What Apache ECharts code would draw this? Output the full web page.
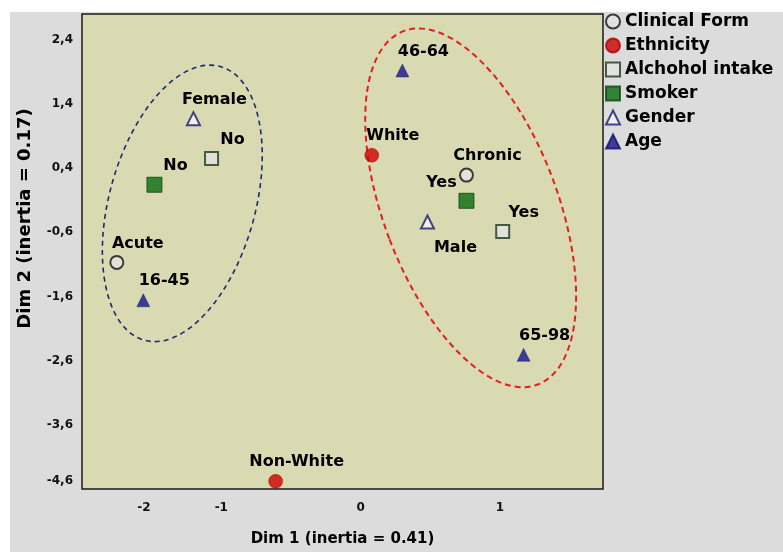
<!DOCTYPE html>
<html><head><meta charset="utf-8">
<script src="https://cdn.jsdelivr.net/npm/echarts@6/dist/echarts.min.js"></script>
<style>html,body{margin:0;padding:0;background:#fff}#c{width:783px;height:552px}</style>
</head><body><div id="c"></div>
<script>
// ---- data ----
const seriesNames = ['Clinical Form','Ethnicity','Alchohol intake','Smoker','Gender','Age'];
const clinicalLabels = ['Acute','Chronic'];
const clinicalX = [-1.75, 0.76];
const clinicalY = [-1.07, 0.29];
const ethnicityLabels = ['White','Non-White'];
const ethnicityX = [0.08, -0.61];
const ethnicityY = [0.60, -4.48];
const alcoholLabels = ['No','Yes'];
const alcoholX = [-1.07, 1.02];
const alcoholY = [0.55, -0.59];
const smokerLabels = ['No','Yes'];
const smokerX = [-1.48, 0.76];
const smokerY = [0.14, -0.11];
const genderLabels = ['Female','Male'];
const genderX = [-1.20, 0.48];
const genderY = [1.17, -0.44];
const ageLabels = ['16-45','46-64','65-98'];
const ageX = [-1.56, 0.30, 1.17];
const ageY = [-1.66, 1.92, -2.51];
const xName = 'Dim 1 (inertia = 0.41)';
const yName = 'Dim 2 (inertia = 0.17)';
// group ellipse centres (data coords)
const groupCentres = [[-1.28, -0.15], [0.79, -0.22]];

// ---- styles ----
const FONT = 'DejaVu Sans';
const labelOffsetDefault = [21, -19];
const labelOffsetSpecial = { 'Smoker|Yes': [-25, -18], 'Gender|Male': [28, 26] };

function pts(series, labels, xs, ys) {
  return labels.map((l, i) => {
    const o = labelOffsetSpecial[series + '|' + l];
    const d = { name: l, value: [xs[i], ys[i]] };
    if (o) d.label = { offset: o };
    return d;
  });
}

const baseLabel = {
  show: true, formatter: '{b}', position: 'inside', offset: labelOffsetDefault,
  align: 'center', verticalAlign: 'middle',
  fontFamily: FONT, fontWeight: 'bold', fontSize: 16, color: '#000', opacity: 1,
  textBorderWidth: 0, textBorderColor: 'transparent'
};

function mk(name, data, symbol, size, itemStyle) {
  return {
    name, type: 'scatter', data, symbol, symbolSize: size, itemStyle,
    label: baseLabel, emphasis: { disabled: true }, z: 3
  };
}

const chart = echarts.init(document.getElementById('c'));
chart.setOption({
  animation: false,
  backgroundColor: '#dcdcdc',
  grid: {
    left: 82, right: 180, top: 14, bottom: 60,
    show: true, backgroundColor: '#dadab2', borderColor: '#1a1a1a', borderWidth: 1.5
  },
  legend: {
    data: seriesNames, orient: 'vertical', left: 605, top: 13,
    itemWidth: 14, itemHeight: 14, itemGap: 7, padding: 0, selectedMode: false,
    textStyle: { fontFamily: FONT, fontWeight: 'bold', fontSize: 17, color: '#000', lineHeight: 17 }
  },
  xAxis: {
    type: 'value', min: -2, max: 1.74, interval: 1,
    name: xName, nameLocation: 'middle', nameGap: 43,
    nameTextStyle: { fontFamily: FONT, fontWeight: 'bold', fontSize: 15, color: '#000' },
    axisLine: { show: false }, axisTick: { show: false }, splitLine: { show: false },
    axisLabel: {
      margin: 13, showMinLabel: true, showMaxLabel: false,
      fontFamily: FONT, fontWeight: 'bold', fontSize: 12, color: '#111',
      formatter: v => Math.abs(v + 2) < 1e-6 ? '{m|-2}' : String(Math.round(v)),
      rich: { m: { padding: [0, 0, 0, 124], fontFamily: FONT, fontWeight: 'bold', fontSize: 12, color: '#111' } }
    }
  },
  yAxis: {
    type: 'value', min: -4.6, max: 2.8, interval: 1,
    name: yName, nameLocation: 'middle', nameGap: 48,
    nameTextStyle: { fontFamily: FONT, fontWeight: 'bold', fontSize: 18, color: '#000', padding: [0, 0, 0, 66] },
    axisLine: { show: false }, axisTick: { show: false }, splitLine: { show: false },
    axisLabel: {
      margin: 9, showMinLabel: true, showMaxLabel: false,
      fontFamily: FONT, fontWeight: 'bold', fontSize: 12, color: '#111',
      formatter: v => {
        const s = v.toFixed(1).replace('.', ',');
        return Math.abs(v + 4.6) < 1e-6 ? '{m|' + s + '}' : s;
      },
      rich: { m: { padding: [0, 0, 16, 0], fontFamily: FONT, fontWeight: 'bold', fontSize: 12, color: '#111' } }
    }
  },
  series: [
    mk('Clinical Form', pts('Clinical Form', clinicalLabels, clinicalX, clinicalY), 'circle', 13,
       { color: '#e4e4e4', borderColor: '#111', borderWidth: 2 }),
    mk('Ethnicity', pts('Ethnicity', ethnicityLabels, ethnicityX, ethnicityY), 'circle', 14,
       { color: '#cc0000', borderColor: '#b00000', borderWidth: 0.5 }),
    mk('Alchohol intake', pts('Alchohol intake', alcoholLabels, alcoholX, alcoholY), 'rect', 13,
       { color: '#e4e4e4', borderColor: '#1c3a1c', borderWidth: 2 }),
    mk('Smoker', pts('Smoker', smokerLabels, smokerX, smokerY), 'rect', 15,
       { color: '#0a6a0e', borderColor: '#084a0a', borderWidth: 1 }),
    mk('Gender', pts('Gender', genderLabels, genderX, genderY), 'triangle', 13,
       { color: '#f4f4f4', borderColor: '#1a1a6a', borderWidth: 2 }),
    mk('Age', pts('Age', ageLabels, ageX, ageY), 'triangle', 13,
       { color: '#14148e', borderColor: '#10106a', borderWidth: 0.5 })
  ]
});

const c0 = chart.convertToPixel({ gridIndex: 0 }, groupCentres[0]);
const c1 = chart.convertToPixel({ gridIndex: 0 }, groupCentres[1]);
chart.setOption({
  graphic: [
    { type: 'rect', silent: true, z: 100, shape: { x: 0, y: 0, width: 783, height: 12 }, style: { fill: '#fff' } },
    { type: 'rect', silent: true, z: 100, shape: { x: 0, y: 0, width: 10, height: 552 }, style: { fill: '#fff' } },
    { type: 'ellipse', silent: true, z: 1, x: c0[0], y: c0[1], rotation: -15.5 * Math.PI / 180,
      shape: { cx: 0, cy: 0, rx: 73, ry: 142 },
      style: { fill: null, stroke: '#1c2a70', lineWidth: 1.6, lineDash: [5, 4] } },
    { type: 'ellipse', silent: true, z: 1, x: c1[0], y: c1[1], rotation: 20.8 * Math.PI / 180,
      shape: { cx: 0, cy: 0, rx: 87, ry: 189 },
      style: { fill: null, stroke: '#e02020', lineWidth: 2, lineDash: [6, 4] } }
  ]
});
</script></body></html>
